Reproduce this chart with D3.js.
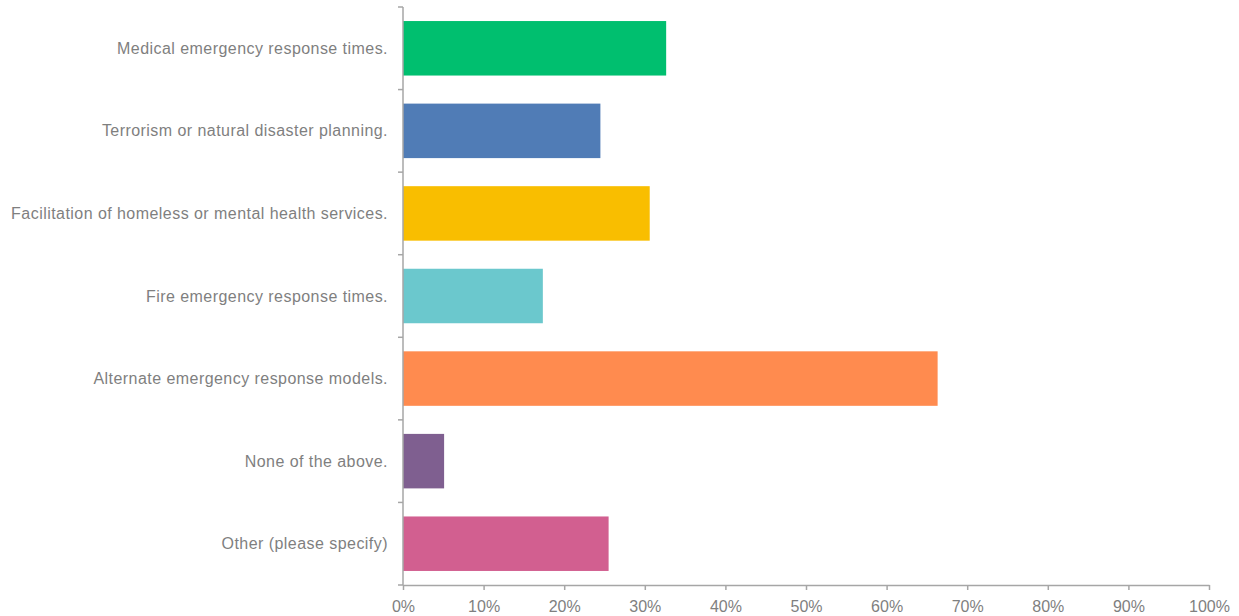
<!DOCTYPE html>
<html>
<head>
<meta charset="utf-8">
<script src="https://cdn.jsdelivr.net/npm/d3@7"></script>
<style>
  html, body { margin: 0; padding: 0; background: #fff; }
  svg { display: block; font-family: "Liberation Sans", Arial, sans-serif; }
</style>
</head>
<body>
<svg id="chart" width="1239" height="616"></svg>
<script>
// Survey answers and share of respondents (%)
const categories = [
  "Medical emergency response times.",
  "Terrorism or natural disaster planning.",
  "Facilitation of homeless or mental health services.",
  "Fire emergency response times.",
  "Alternate emergency response models.",
  "None of the above.",
  "Other (please specify)"
];
const values = [32.65, 24.49, 30.61, 17.35, 66.33, 5.10, 25.51];
const colors = ["#00bf6f", "#507cb6", "#f9be00", "#6bc8cd", "#ff8b4f", "#7f5f90", "#d25f90"];
const xTicks = [0, 10, 20, 30, 40, 50, 60, 70, 80, 90, 100];

const svg = d3.select("#chart");
const plotLeft = 403, plotRight = 1209, plotTop = 7, plotBottom = 585;
const axisColor = "#a6a6a6";
const textColor = "#7f7f7f";

const x = d3.scaleLinear().domain([0, 100]).range([plotLeft, plotRight]);
const y = d3.scaleBand().domain(categories).range([plotTop, plotBottom])
  .paddingInner(0.34).paddingOuter(0.17);

// bars
svg.append("g").selectAll("rect")
  .data(categories)
  .join("rect")
  .attr("x", x(0))
  .attr("y", d => y(d))
  .attr("width", (d, i) => x(values[i]) - x(0))
  .attr("height", y.bandwidth())
  .attr("fill", (d, i) => colors[i]);

// x axis
const xAxis = svg.append("g")
  .attr("transform", `translate(0,${plotBottom})`)
  .call(d3.axisBottom(x).tickValues(xTicks).tickFormat(d => d + "%").tickSize(5).tickSizeOuter(0));
xAxis.select(".domain").attr("stroke", axisColor).attr("stroke-width", 1.5);
xAxis.selectAll(".tick line").attr("stroke", axisColor).attr("stroke-width", 1.5);
xAxis.selectAll(".tick text")
  .attr("fill", textColor)
  .attr("font-size", 16)
  .attr("dy", "0.71em")
  .attr("y", 16);

// y axis: line with ticks at category boundaries
const yAxis = svg.append("g");
yAxis.append("line")
  .attr("x1", plotLeft).attr("x2", plotLeft)
  .attr("y1", plotTop).attr("y2", plotBottom)
  .attr("stroke", axisColor).attr("stroke-width", 1.5);
const bounds = d3.range(categories.length + 1).map(i => plotTop + i * y.step());
yAxis.selectAll("line.tick")
  .data(bounds)
  .join("line")
  .attr("class", "tick")
  .attr("x1", plotLeft - 5).attr("x2", plotLeft)
  .attr("y1", d => d).attr("y2", d => d)
  .attr("stroke", axisColor).attr("stroke-width", 1.5);

// category labels
svg.append("g").selectAll("text")
  .data(categories)
  .join("text")
  .attr("x", plotLeft - 15)
  .attr("y", d => y(d) + y.bandwidth() / 2)
  .attr("dy", "0.35em")
  .attr("text-anchor", "end")
  .attr("fill", textColor)
  .attr("font-size", 16)
  .attr("letter-spacing", "0.45px")
  .text(d => d);
</script>
</body>
</html>
